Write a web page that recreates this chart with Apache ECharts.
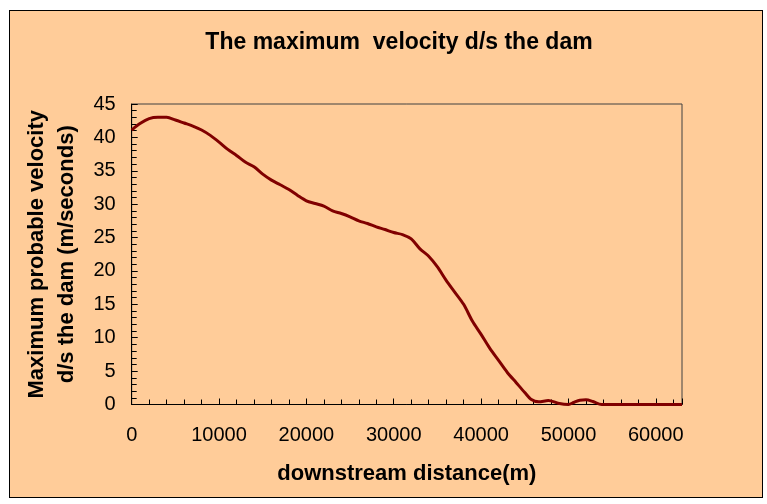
<!DOCTYPE html>
<html>
<head>
<meta charset="utf-8">
<script src="https://cdn.jsdelivr.net/npm/echarts@6/dist/echarts.min.js"></script>
<style>
  html, body { margin: 0; padding: 0; background: #fff; }
  .box {
    position: absolute; left: 9px; top: 10px;
    width: 752px; height: 486px;
    border: 1px solid #000; background: #ffcc99;
  }
  .chart { width: 752px; height: 486px; }
</style>
</head>
<body>
<div class="box"><div class="chart"></div></div>
<script>
// 下游距离 (m)
var distance = [0, 1000, 2000, 3000, 4000, 5000, 6000, 7000, 8000, 9000,
  10000, 11000, 12000, 13000, 14000, 15000, 16000, 17000, 18000, 19000,
  20000, 21000, 22000, 23000, 24000, 25000, 26000, 27000, 28000, 29000,
  30000, 31000, 32000, 33000, 34000, 35000, 36000, 37000, 38000, 39000,
  40000, 41000, 42000, 43000, 44000, 45000, 45700, 46600, 47700, 48800,
  50000, 50600, 51300, 52000, 52800, 53800, 63000];
// 最大流速 (m/s)
var velocity = [41.1, 42.1, 42.8, 43.0, 43.0, 42.6, 42.15, 41.7, 41.1, 40.3,
  39.3, 38.2, 37.3, 36.3, 35.6, 34.5, 33.6, 32.9, 32.2, 31.3,
  30.5, 30.1, 29.7, 29.0, 28.6, 28.1, 27.5, 27.1, 26.6, 26.2,
  25.75, 25.45, 24.8, 23.3, 22.2, 20.6, 18.6, 16.8, 15.0, 12.5,
  10.5, 8.4, 6.6, 4.8, 3.3, 1.8, 0.8, 0.4, 0.6, 0.2,
  0, 0.3, 0.65, 0.7, 0.45, 0, 0];

(function () {
  var myChart = echarts.init(document.querySelector('.chart'));
  var font = "'Liberation Sans', Arial, sans-serif";
  var points = distance.map(function (d, i) { return [d, velocity[i]]; });
  var option = {
    textStyle: { fontFamily: font },
    title: {
      text: 'The maximum  velocity d/s the dam',
      left: 384,
      top: 15,
      textAlign: 'center',
      textStyle: { fontSize: 23, fontWeight: 'bold', color: '#000', fontFamily: font }
    },
    grid: {
      left: 121.7,
      top: 93,
      right: 80,
      bottom: 92.5,
      show: true,
      borderColor: '#404040',
      borderWidth: 1,
      containLabel: false
    },
    xAxis: {
      type: 'value',
      min: 0,
      max: 63000,
      interval: 10000,
      name: 'downstream distance(m)',
      nameLocation: 'middle',
      nameGap: 58,
      nameTextStyle: { fontSize: 22, fontWeight: 'bold', color: '#000', fontFamily: font },
      axisLine: { lineStyle: { color: '#000', width: 1 } },
      axisTick: { inside: true, length: 6, lineStyle: { color: '#000' } },
      minorTick: { show: true, splitNumber: 5, length: 5, lineStyle: { color: '#000' } },
      axisLabel: {
        color: '#000', fontSize: 20, margin: 21, showMaxLabel: false, fontFamily: font,
        formatter: function (v) { return String(v); }
      },
      splitLine: { show: false }
    },
    yAxis: {
      type: 'value',
      min: 0,
      max: 45,
      interval: 5,
      name: 'Maximum probable velocity\nd/s the dam (m/seconds)',
      nameLocation: 'middle',
      nameRotate: 90,
      nameGap: 50,
      nameTextStyle: { fontSize: 22, fontWeight: 'bold', color: '#000', lineHeight: 30, fontFamily: font },
      axisLine: { show: true, lineStyle: { color: '#000', width: 1 } },
      axisTick: { show: true, inside: true, length: 6, lineStyle: { color: '#000' } },
      minorTick: { show: true, splitNumber: 5, length: 5, lineStyle: { color: '#000' } },
      axisLabel: { color: '#000', fontSize: 20, margin: 16, fontFamily: font },
      splitLine: { show: false }
    },
    series: [{
      name: 'velocity',
      type: 'line',
      data: points,
      smooth: 0.3,
      symbol: 'none',
      lineStyle: { color: '#800000', width: 3 }
    }]
  };
  myChart.setOption(option);
  window.addEventListener('resize', function () {
    myChart.resize();
  });
})();
</script>
</body>
</html>
